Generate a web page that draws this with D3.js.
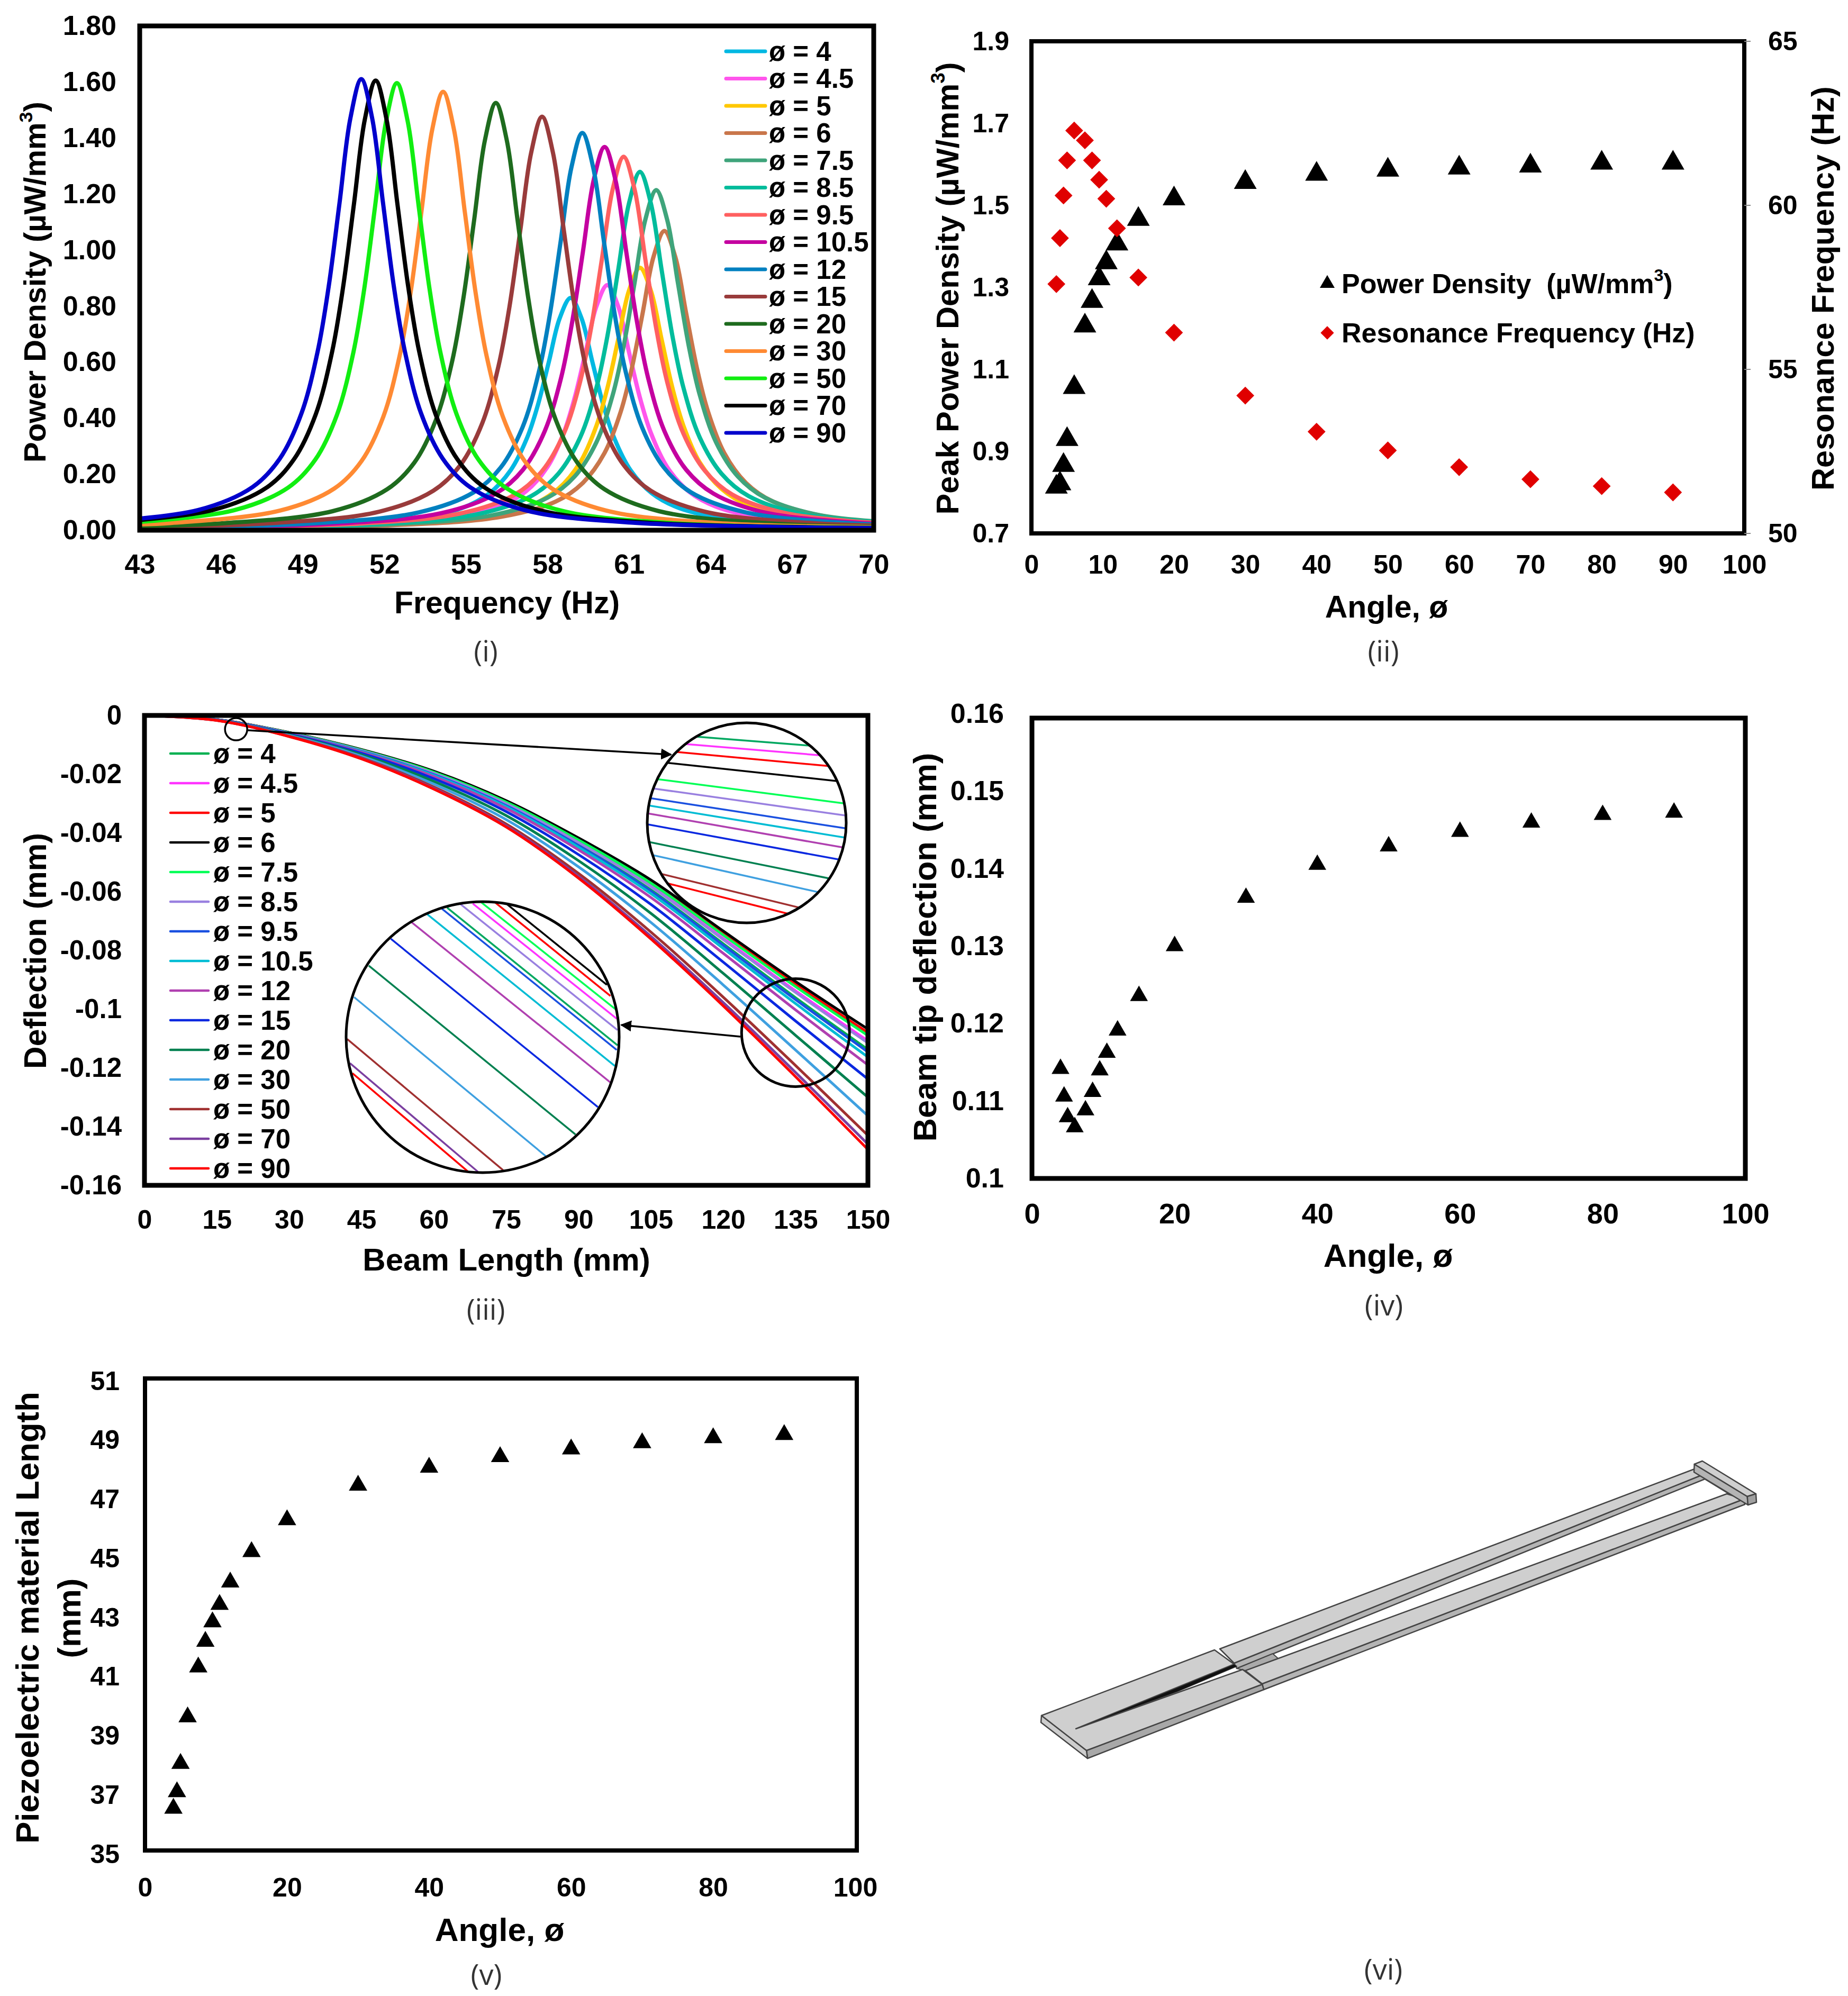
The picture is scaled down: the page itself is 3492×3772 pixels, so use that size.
<!DOCTYPE html>
<html>
<head>
<meta charset="utf-8">
<script src="https://cdn.jsdelivr.net/npm/d3@7"></script>
<style>
body { margin: 0; background: #fff; }
text { font-family: "Liberation Sans", Arial, sans-serif; font-weight: bold; fill: #000; }
.caption { font-family: "Open Sans", sans-serif; font-weight: 400; fill: #333; }
</style>
</head>
<body>
<script>
// Legend labels shared by panels (i) and (iii).
var phiLabels = ["ø = 4", "ø = 4.5", "ø = 5", "ø = 6", "ø = 7.5", "ø = 8.5", "ø = 9.5", "ø = 10.5", "ø = 12", "ø = 15", "ø = 20", "ø = 30", "ø = 50", "ø = 70", "ø = 90"];

// Panel (i): power density against frequency, [Hz, uW/mm3].
var powerColors = ["#00b8e2", "#ff55ec", "#ffc800", "#c9764b", "#3fa47b", "#00bc9c", "#ff6060", "#c400a0", "#0080c0", "#993b3b", "#1e6b1e", "#ff8a33", "#11ee11", "#000000", "#0000cc"];
var power4 = [[43,.006],[48.85,.014],[52.85,.037],[54.85,.079],[55.85,.131],[56.65,.215],[57.25,.33],[57.65,.448],[58.05,.601],[58.45,.757],[58.85,.829],[59.25,.757],[59.65,.601],[60.05,.448],[60.45,.33],[61.05,.215],[61.85,.131],[62.85,.079],[64.85,.037],[68.85,.014],[70,.011]];
var power45 = [[43,.005],[50.2,.015],[54.2,.039],[56.2,.084],[57.2,.138],[58,.226],[58.6,.348],[59,.473],[59.4,.635],[59.8,.799],[60.2,.875],[60.6,.799],[61,.635],[61.4,.473],[61.8,.348],[62.4,.226],[63.2,.138],[64.2,.084],[66.2,.039],[70.2,.015]];
var power5 = [[43,.005],[51.4,.016],[55.4,.042],[57.4,.089],[58.4,.148],[59.2,.242],[59.8,.373],[60.2,.506],[60.6,.68],[61,.856],[61.4,.937],[61.8,.856],[62.2,.68],[62.6,.506],[63,.373],[63.6,.242],[64.4,.148],[65.4,.089],[67.4,.042],[71.4,.016]];
var power6 = [[43,.005],[52.3,.018],[56.3,.048],[58.3,.102],[59.3,.169],[60.1,.276],[60.7,.425],[61.1,.577],[61.5,.775],[61.9,.976],[62.3,1.068],[62.7,.976],[63.1,.775],[63.5,.577],[63.9,.425],[64.5,.276],[65.3,.169],[66.3,.102],[68.3,.048],[72.3,.018]];
var power75 = [[43,.006],[52,.02],[56,.054],[58,.116],[59,.192],[59.8,.314],[60.4,.483],[60.8,.656],[61.2,.881],[61.6,1.109],[62,1.214],[62.4,1.109],[62.8,.881],[63.2,.656],[63.6,.483],[64.2,.314],[65,.192],[66,.116],[68,.054],[72,.02]];
var power85 = [[43,.006],[51.4,.021],[55.4,.057],[57.4,.122],[58.4,.202],[59.2,.331],[59.8,.509],[60.2,.691],[60.6,.928],[61,1.168],[61.4,1.279],[61.8,1.168],[62.2,.928],[62.6,.691],[63,.509],[63.6,.331],[64.4,.202],[65.4,.122],[67.4,.057],[71.4,.021]];
var power95 = [[43,.007],[50.8,.022],[54.8,.06],[56.8,.127],[57.8,.211],[58.6,.345],[59.2,.53],[59.6,.72],[60,.967],[60.4,1.218],[60.8,1.333],[61.2,1.218],[61.6,.967],[62,.72],[62.4,.53],[63,.345],[63.8,.211],[64.8,.127],[66.8,.06],[70.8,.022]];
var power105 = [[43,.008],[50.1,.023],[54.1,.061],[56.1,.131],[57.1,.216],[57.9,.354],[58.5,.544],[58.9,.739],[59.3,.992],[59.7,1.25],[60.1,1.368],[60.5,1.25],[60.9,.992],[61.3,.739],[61.7,.544],[62.3,.354],[63.1,.216],[64.1,.131],[66.1,.061],[70.1,.023]];
var power12 = [[43,.009],[49.28,.024],[53.28,.064],[55.28,.135],[56.28,.224],[57.08,.367],[57.68,.564],[58.08,.766],[58.48,1.028],[58.88,1.295],[59.28,1.418],[59.68,1.295],[60.08,1.028],[60.48,.766],[60.88,.564],[61.48,.367],[62.28,.224],[63.28,.135],[65.28,.064],[69.28,.024],[70,.021]];
var power15 = [[43,.011],[47.8,.025],[51.8,.066],[53.8,.141],[54.8,.233],[55.6,.382],[56.2,.587],[56.6,.797],[57,1.071],[57.4,1.348],[57.8,1.476],[58.2,1.348],[58.6,1.071],[59,.797],[59.4,.587],[60,.382],[60.8,.233],[61.8,.141],[63.8,.066],[67.8,.025],[70,.017]];
var power20 = [[43,.015],[46.1,.025],[50.1,.068],[52.1,.146],[53.1,.241],[53.9,.395],[54.5,.606],[54.9,.824],[55.3,1.106],[55.7,1.393],[56.1,1.525],[56.5,1.393],[56.9,1.106],[57.3,.824],[57.7,.606],[58.3,.395],[59.1,.241],[60.1,.146],[62.1,.068],[66.1,.025],[70,.013]];
var power30 = [[43,.021],[44.16,.026],[48.16,.07],[50.16,.149],[51.16,.247],[51.96,.405],[52.56,.622],[52.96,.845],[53.36,1.135],[53.76,1.43],[54.16,1.565],[54.56,1.43],[54.96,1.135],[55.36,.845],[55.76,.622],[56.36,.405],[57.16,.247],[58.16,.149],[60.16,.07],[64.16,.026],[70,.011]];
var power50 = [[42.46,.026],[46.46,.071],[48.46,.152],[49.46,.252],[50.26,.413],[50.86,.635],[51.26,.862],[51.66,1.158],[52.06,1.458],[52.46,1.596],[52.86,1.458],[53.26,1.158],[53.66,.862],[54.06,.635],[54.66,.413],[55.46,.252],[56.46,.152],[58.46,.071],[62.46,.026],[70,.009]];
var power70 = [[41.68,.027],[45.68,.072],[47.68,.153],[48.68,.254],[49.48,.415],[50.08,.638],[50.48,.867],[50.88,1.164],[51.28,1.466],[51.68,1.605],[52.08,1.466],[52.48,1.164],[52.88,.867],[53.28,.638],[53.88,.415],[54.68,.254],[55.68,.153],[57.68,.072],[61.68,.027],[70,.008]];
var power90 = [[41.15,.027],[45.15,.072],[47.15,.154],[48.15,.255],[48.95,.417],[49.55,.64],[49.95,.869],[50.35,1.168],[50.75,1.471],[51.15,1.61],[51.55,1.471],[51.95,1.168],[52.35,.869],[52.75,.64],[53.35,.417],[54.15,.255],[55.15,.154],[57.15,.072],[61.15,.027],[70,.008]];
var powerSeries = [power4, power45, power5, power6, power75, power85, power95, power105, power12, power15, power20, power30, power50, power70, power90];
var freqTicks = [43, 46, 49, 52, 55, 58, 61, 64, 67, 70];
var powerTicks = [0, .2, .4, .6, .8, 1, 1.2, 1.4, 1.6, 1.8];

// Panel (ii): peak power density and resonance frequency against angle.
var anglesIi = [3.5, 4, 4.5, 5, 6, 7.5, 8.5, 9.5, 10.5, 12, 15, 20, 30, 40, 50, 60, 70, 80, 90];
var peakPower = [.817, .825, .87, .933, 1.06, 1.21, 1.27, 1.325, 1.364, 1.41, 1.47, 1.52, 1.56, 1.58, 1.59, 1.595, 1.6, 1.607, 1.607];
var resonance = [57.6, 59, 60.3, 61.37, 62.28, 61.98, 61.37, 60.78, 60.2, 59.3, 57.8, 56.12, 54.2, 53.1, 52.53, 52.02, 51.65, 51.44, 51.25];
var peakTicks = [.7, .9, 1.1, 1.3, 1.5, 1.7, 1.9];
var resTicks = [50, 55, 60, 65];
var angleTicks10 = [0, 10, 20, 30, 40, 50, 60, 70, 80, 90, 100];

// Panel (iii): deflection against beam length.
var beamColors = ["#00b050", "#ff33ff", "#ff0000", "#000000", "#00ff55", "#9980e0", "#1a50e0", "#00bcd4", "#b040b0", "#0a28e0", "#008050", "#3fa0e0", "#a03030", "#7b3fa0", "#ff0000"];
var beamLength = [0, 15, 30, 45, 60, 75, 90, 105, 120, 135, 150];
var defl4 = [0, -.00145, -.00604, -.01214, -.02004, -.03053, -.04403, -.05942, -.07774, -.09611, -.11377];
var defl45 = [0, -.00143, -.00594, -.01191, -.0196, -.02988, -.04304, -.05797, -.0759, -.09378, -.11082];
var defl5 = [0, -.00141, -.00584, -.01169, -.01918, -.02926, -.0421, -.05658, -.07414, -.09154, -.10799];
var defl6 = [0, -.0014, -.0058, -.0116, -.019, -.029, -.0417, -.056, -.0734, -.0906, -.1068];
var defl75 = [0, -.00142, -.00588, -.01177, -.01933, -.02949, -.04244, -.05709, -.07478, -.09235, -.10901];
var defl85 = [0, -.00143, -.00596, -.01197, -.0197, -.03004, -.04328, -.05831, -.07633, -.09433, -.11152];
var defl95 = [0, -.00146, -.00607, -.01221, -.02016, -.03071, -.0443, -.05982, -.07825, -.09676, -.11459];
var defl105 = [0, -.00147, -.00612, -.01234, -.02042, -.03109, -.04488, -.06066, -.07932, -.09812, -.11631];
var defl12 = [0, -.00149, -.00622, -.01255, -.02082, -.03168, -.04578, -.06199, -.081, -.10026, -.11902];
var defl15 = [0, -.00152, -.00638, -.01293, -.02153, -.03274, -.04739, -.06434, -.08398, -.10405, -.12382];
var defl20 = [0, -.00157, -.00659, -.01341, -.02245, -.03409, -.04945, -.06738, -.08783, -.10894, -.13001];
var defl30 = [0, -.00162, -.00681, -.0139, -.02339, -.03548, -.05156, -.07047, -.09176, -.11393, -.13632];
var defl50 = [0, -.00166, -.00704, -.01443, -.02439, -.03695, -.0538, -.07375, -.09592, -.11921, -.143];
var defl70 = [0, -.00169, -.00714, -.01466, -.02483, -.0376, -.0548, -.07522, -.09778, -.12157, -.146];
var defl90 = [0, -.0017, -.0072, -.0148, -.0251, -.038, -.0554, -.0761, -.0989, -.123, -.1478];
var deflSeries = [defl4, defl45, defl5, defl6, defl75, defl85, defl95, defl105, defl12, defl15, defl20, defl30, defl50, defl70, defl90];
var lengthTicks = [0, 15, 30, 45, 60, 75, 90, 105, 120, 135, 150];
var deflTicks = [0, -.02, -.04, -.06, -.08, -.1, -.12, -.14, -.16];

// Magnified lenses in panel (iii): [u0, v0, u1, v1] of each line, in 0-1 lens units.
var lensTopColors = ["#00a860", "#ff33ff", "#ff0000", "#000000", "#00ff55", "#9980e0", "#1a50e0", "#00bcd4", "#b040b0", "#0a28e0", "#008050", "#3fa0e0", "#a03030", "#ff0000"];
var lensTopLines = [[0,.05,1,.128],[0,.09,1,.173],[0,.132,1,.224],[0,.189,1,.296],[0,.275,1,.404],[0,.324,1,.464],[0,.374,1,.528],[0,.412,1,.575],[0,.452,1,.626],[0,.507,1,.69],[0,.594,1,.795],[0,.655,1,.878],[0,.738,1,.981],[0,.777,1,1.028]];
var lensLowColors = ["#000000", "#ff0000", "#00ff55", "#ff33ff", "#9980e0", "#00a860", "#1a50e0", "#00bcd4", "#b040b0", "#0a28e0", "#008050", "#3fa0e0", "#a03030", "#7b3fa0", "#ff0000"];
var lensLowLines = [[.59,.01,.955,.307],[.546,.003,.968,.348],[.496,.003,.987,.397],[.464,.007,.991,.432],[.42,.01,.994,.474],[.37,.022,.994,.53],[.351,.026,.991,.547],[.298,.047,.984,.606],[.241,.077,.969,.668],[.164,.137,.922,.758],[.083,.236,.84,.859],[.029,.352,.731,.939],[.004,.507,.575,.991],[.014,.596,.483,.997],[.023,.633,.445,.995]];

// Panels (iv) and (v) share their angles.
var angles = [4, 4.5, 5, 6, 7.5, 8.5, 9.5, 10.5, 12, 15, 20, 30, 40, 50, 60, 70, 80, 90];
var tipDeflection = [.1145, .1109, .1082, .1069, .1091, .1115, .1143, .1166, .1195, .124, .1305, .1368, .1411, .1435, .1454, .1466, .1476, .1479];
var tipTicks = [.1, .11, .12, .13, .14, .15, .16];
var piezoLength = [36.48, 37.04, 38, 39.58, 41.27, 42.14, 42.8, 43.39, 44.15, 45.18, 46.26, 47.43, 48.04, 48.4, 48.66, 48.87, 49.04, 49.15];
var piezoTicks = [35, 37, 39, 41, 43, 45, 47, 49, 51];
var angleTicks20 = [0, 20, 40, 60, 80, 100];

var svg = d3.select("body").append("svg")
    .attr("width", 3492).attr("height", 3772)
    .style("display", "block");

// Put an axis on a panel edge and drop its domain line and ticks.
function drawAxis (axis, transform, padding, values, format, fontSize) {
    var g = svg.append("g").attr("transform", transform)
        .call(axis.tickValues(values).tickFormat(format).tickSize(0).tickPadding(padding));
    g.select(".domain").remove();
    g.selectAll("text").style("font-size", fontSize + "px");
    g.attr("font-family", null).attr("font-size", null);
    return g;
}

// Draw the heavy box round a panel.
function drawFrame (box, width) {
    svg.append("rect")
        .attr("x", box.l).attr("y", box.t)
        .attr("width", box.r - box.l).attr("height", box.b - box.t)
        .attr("fill", "none").attr("stroke", "#000").attr("stroke-width", width);
}

function titleX (text, x, y, size) {
    svg.append("text").text(text)
        .attr("x", x).attr("y", y)
        .attr("text-anchor", "middle").attr("dominant-baseline", "central")
        .style("font-size", size + "px");
}

// Rotated title; sup is an optional superscript followed by tail.
function titleY (text, x, y, size, sup, tail) {
    var t = svg.append("text")
        .attr("transform", "translate(" + x + "," + y + ") rotate(-90)")
        .attr("text-anchor", "middle").attr("dominant-baseline", "central")
        .style("font-size", size + "px");
    t.append("tspan").text(text);
    if (sup) {
        t.append("tspan").text(sup).attr("dy", -size * 0.3).style("font-size", (size * 0.62) + "px");
        t.append("tspan").text(tail).attr("dy", size * 0.3);
    }
}

function caption (text, x, y) {
    svg.append("text").attr("class", "caption").text(text)
        .attr("x", x).attr("y", y)
        .attr("text-anchor", "middle").attr("dominant-baseline", "central")
        .style("font-size", "54px");
}

function drawLegend (x0, x1, xText, y0, step, colors, width) {
    phiLabels.forEach(function (label, i) {
        svg.append("line")
            .attr("x1", x0).attr("x2", x1)
            .attr("y1", y0 + i * step).attr("y2", y0 + i * step)
            .attr("stroke", colors[i]).attr("stroke-width", width)
            .attr("stroke-linecap", "round");
        svg.append("text").text(label)
            .attr("x", xText).attr("y", y0 + i * step)
            .attr("dominant-baseline", "central")
            .style("font-size", "51px");
    });
}

function drawMarkers (xs, ys, x, y, size) {
    svg.append("g").selectAll("path").data(xs).join("path")
        .attr("d", d3.symbol().type(d3.symbolTriangle).size(size))
        .attr("transform", function (d, i) { return "translate(" + x(d) + "," + (y(ys[i]) + 3) + ")"; })
        .attr("fill", "#000");
}

function clipFor (id, box) {
    svg.append("clipPath").attr("id", id).append("rect")
        .attr("x", box.l).attr("y", box.t)
        .attr("width", box.r - box.l).attr("height", box.b - box.t);
}

// ---- Panel (i)
var boxI = { l: 264, r: 1651, t: 49, b: 1002 };
var xI = d3.scaleLinear().domain([43, 70]).range([boxI.l, boxI.r]);
var yI = d3.scaleLinear().domain([0, 1.8]).range([boxI.b, boxI.t]);
var lineI = d3.line().x(function (d) { return xI(d[0]); }).y(function (d) { return yI(d[1]); }).curve(d3.curveCatmullRom.alpha(0.5));
clipFor("clipI", boxI);
svg.append("g").attr("clip-path", "url(#clipI)")
    .selectAll("path").data(powerSeries).join("path")
    .attr("d", lineI)
    .attr("fill", "none")
    .attr("stroke", function (d, i) { return powerColors[i]; })
    .attr("stroke-width", 8);
drawFrame(boxI, 9);
drawAxis(d3.axisBottom(xI), "translate(0," + boxI.b + ")", 45, freqTicks, String, 52);
drawAxis(d3.axisLeft(yI), "translate(" + boxI.l + ",0)", 44, powerTicks, function (d) { return d.toFixed(2); }, 52);
drawLegend(1372, 1446, 1453, 97, 51.5, powerColors, 7);
titleX("Frequency (Hz)", 958, 1139, 59);
titleY("Power Density (µW/mm", 65, 533, 58, "3", ")");
caption("(i)", 918, 1229);

// ---- Panel (ii)
var boxIi = { l: 1949, r: 3296, t: 78, b: 1008 };
var xIi = d3.scaleLinear().domain([0, 100]).range([boxIi.l, boxIi.r]);
var yIi = d3.scaleLinear().domain([.7, 1.9]).range([boxIi.b, boxIi.t]);
var yRes = d3.scaleLinear().domain([50, 65]).range([boxIi.b, boxIi.t]);
drawMarkers(anglesIi, peakPower, xIi, yIi, 800);
svg.append("g").selectAll("path").data(anglesIi).join("path")
    .attr("d", d3.symbol().type(d3.symbolSquare).size(570))
    .attr("transform", function (d, i) { return "translate(" + xIi(d) + "," + yRes(resonance[i]) + ") rotate(45)"; })
    .attr("fill", "#e00000");
drawFrame(boxIi, 8);
svg.append("g").selectAll("line").data(resTicks).join("line")
    .attr("x1", boxIi.r).attr("x2", boxIi.r + 12)
    .attr("y1", yRes).attr("y2", yRes)
    .attr("stroke", "#888").attr("stroke-width", 2);
drawAxis(d3.axisBottom(xIi), "translate(0," + boxIi.b + ")", 40, angleTicks10, String, 50);
drawAxis(d3.axisLeft(yIi), "translate(" + boxIi.l + ",0)", 42, peakTicks, function (d) { return d.toFixed(1); }, 50);
drawAxis(d3.axisRight(yRes), "translate(" + boxIi.r + ",0)", 45, resTicks, String, 50);
titleX("Angle, ø", 2620, 1147, 59);
titleY("Peak Power Density (µW/mm", 1790, 545, 59.5, "3", ")");
titleY("Resonance Frequency (Hz)", 3444, 545, 59.5);
caption("(ii)", 2614, 1229);
// Legend of panel (ii)
svg.append("path").attr("d", d3.symbol().type(d3.symbolTriangle).size(340))
    .attr("transform", "translate(2508,536)").attr("fill", "#000");
svg.append("path").attr("d", d3.symbol().type(d3.symbolSquare).size(320))
    .attr("transform", "translate(2508,629) rotate(45)").attr("fill", "#e00000");
var legPower = svg.append("text").attr("x", 2535).attr("y", 536)
    .attr("dominant-baseline", "central")
    .style("font-size", "52px");
legPower.append("tspan").text("Power Density\u00a0\u00a0(µW/mm");
legPower.append("tspan").text("3").attr("dy", -16).style("font-size", "32px");
legPower.append("tspan").text(")").attr("dy", 16);
svg.append("text").text("Resonance Frequency (Hz)")
    .attr("x", 2535).attr("y", 629)
    .attr("dominant-baseline", "central")
    .style("font-size", "52px");

// ---- Panel (iii)
var boxIii = { l: 273, r: 1640, t: 1352, b: 2240 };
var xIii = d3.scaleLinear().domain([0, 150]).range([boxIii.l, boxIii.r]);
var yIii = d3.scaleLinear().domain([-.16, 0]).range([boxIii.b, boxIii.t]);
var lineIii = d3.line().x(function (d, i) { return xIii(beamLength[i]); }).y(function (d) { return yIii(d); }).curve(d3.curveCatmullRom.alpha(0.5));
clipFor("clipIii", boxIii);
svg.append("g").attr("clip-path", "url(#clipIii)")
    .selectAll("path").data(deflSeries).join("path")
    .attr("d", lineIii)
    .attr("fill", "none")
    .attr("stroke", function (d, i) { return beamColors[i]; })
    .attr("stroke-width", 5);
drawFrame(boxIii, 9);
drawAxis(d3.axisBottom(xIii), "translate(0," + boxIii.b + ")", 46, lengthTicks, String, 50);
drawAxis(d3.axisLeft(yIii), "translate(" + boxIii.l + ",0)", 43, deflTicks, String, 51);
drawLegend(322, 394, 403, 1424, 56, beamColors, 4.5);
titleX("Beam Length (mm)", 957, 2380, 60);
titleY("Deflection (mm)", 67, 1797, 59);
caption("(iii)", 918, 2473);

// One magnified lens: lines are clipped to an ellipse laid over them.
function drawLens (id, cx, cy, rx, ry, lines, colors, strokeWidth) {
    var u = d3.scaleLinear().domain([0, 1]).range([cx - rx, cx + rx]);
    var v = d3.scaleLinear().domain([0, 1]).range([cy - ry, cy + ry]);
    svg.append("clipPath").attr("id", id).append("ellipse")
        .attr("cx", cx).attr("cy", cy).attr("rx", rx).attr("ry", ry);
    svg.append("ellipse").attr("cx", cx).attr("cy", cy).attr("rx", rx).attr("ry", ry).attr("fill", "#fff");
    svg.append("g").attr("clip-path", "url(#" + id + ")")
        .selectAll("line").data(lines).join("line")
        .attr("x1", function (d) { return u(d[0]); }).attr("y1", function (d) { return v(d[1]); })
        .attr("x2", function (d) { return u(d[2]); }).attr("y2", function (d) { return v(d[3]); })
        .attr("stroke", function (d, i) { return colors[i]; })
        .attr("stroke-width", strokeWidth);
    svg.append("ellipse").attr("cx", cx).attr("cy", cy).attr("rx", rx).attr("ry", ry)
        .attr("fill", "none").attr("stroke", "#000").attr("stroke-width", 5);
}

drawLens("lensTop", 1411, 1555, 188, 189, lensTopLines, lensTopColors, 3.5);
drawLens("lensLow", 912, 1960, 258, 256, lensLowLines, lensLowColors, 3.5);

// Small rings on the curves and the arrows to the lenses.
svg.append("circle").attr("cx", xIii(19)).attr("cy", yIii(-.0047)).attr("r", 21)
    .attr("fill", "none").attr("stroke", "#000").attr("stroke-width", 3.5);
svg.append("circle").attr("cx", xIii(135)).attr("cy", yIii(-.108)).attr("r", 102)
    .attr("fill", "none").attr("stroke", "#000").attr("stroke-width", 5);
svg.append("marker").attr("id", "arrowHead")
    .attr("viewBox", "0 0 10 10").attr("refX", 9).attr("refY", 5)
    .attr("markerWidth", 6).attr("markerHeight", 6).attr("orient", "auto")
    .append("path").attr("d", "M0,0L10,5L0,10Z").attr("fill", "#000");
var arrows = [[468, 1380, 1268, 1426], [1399, 1959, 1174, 1937]];
svg.append("g").selectAll("line").data(arrows).join("line")
    .attr("x1", function (d) { return d[0]; }).attr("y1", function (d) { return d[1]; })
    .attr("x2", function (d) { return d[2]; }).attr("y2", function (d) { return d[3]; })
    .attr("stroke", "#000").attr("stroke-width", 3.5)
    .attr("marker-end", "url(#arrowHead)");

// ---- Panel (iv)
var boxIv = { l: 1950, r: 3298, t: 1357, b: 2227 };
var xIv = d3.scaleLinear().domain([0, 100]).range([boxIv.l, boxIv.r]);
var yIv = d3.scaleLinear().domain([.1, .16]).range([boxIv.b, boxIv.t]);
var yIvLabels = d3.scaleLinear().domain([.1, .16]).range([boxIv.b, boxIv.t - 8]);
drawMarkers(angles, tipDeflection, xIv, yIv, 490);
drawFrame(boxIv, 9);
drawAxis(d3.axisBottom(xIv), "translate(0," + boxIv.b + ")", 47, angleTicks20, String, 54);
drawAxis(d3.axisLeft(yIvLabels), "translate(" + boxIv.l + ",0)", 53, tipTicks, String, 52);
titleX("Angle, ø", 2623, 2372, 62);
titleY("Beam tip deflection (mm)", 1747, 1790, 61.5);
caption("(iv)", 2615, 2465);

// ---- Panel (v)
var boxV = { l: 274, r: 1619, t: 2605, b: 3497 };
var xV = d3.scaleLinear().domain([0, 100]).range([boxV.l, boxV.r - 3]);
var yV = d3.scaleLinear().domain([35, 51]).range([boxV.b, boxV.t]);
var yVLabels = d3.scaleLinear().domain([35, 51]).range([boxV.b + 7, boxV.t + 5]);
drawMarkers(angles, piezoLength, xV, yV, 520);
drawFrame(boxV, 8);
drawAxis(d3.axisBottom(xV), "translate(0," + boxV.b + ")", 51, angleTicks20, String, 50);
drawAxis(d3.axisLeft(yVLabels), "translate(" + boxV.l + ",0)", 48, piezoTicks, String, 50);
titleX("Angle, ø", 944, 3646, 62);
titleY("Piezoelectric material Length", 51, 3057, 61.7);
titleY("(mm)", 130, 3058, 61.7);
caption("(v)", 919, 3730);

// ---- Panel (vi): the beam drawing, back faces first.
var beamFaces = [
    { fill: "#b4b4b4", stroke: 2.5, pts: [[2332,3143],[3222,2785],[3224,2794],[2337,3153]] },
    { fill: "#b4b4b4", stroke: 2.5, pts: [[2385,3182],[3295,2833],[3297,2843],[2388,3193]] },
    { fill: "#cfcfcf", stroke: 2.5, pts: [[2305,3116],[3202,2776],[3222,2785],[2332,3143]] },
    { fill: "#cfcfcf", stroke: 2.5, pts: [[2353,3157],[3263,2823],[3295,2833],[2385,3182]] },
    { fill: "#dcdcdc", stroke: 2.5, pts: [[3225,2785],[3278,2818],[3267,2823],[3223,2796]] },
    { fill: "#b4b4b4", stroke: 2.5, pts: [[3201.7,2767],[3301.7,2828],[3303,2844],[3201,2782]] },
    { fill: "#cfcfcf", stroke: 2.5, pts: [[3201.7,2767],[3216.7,2761],[3318,2823],[3301.7,2828]] },
    { fill: "#a0a0a0", stroke: 2.5, pts: [[3301.7,2828],[3318,2823],[3319,2839],[3303,2844]] },
    { fill: "#a8a8a8", stroke: 2.5, pts: [[2053,3308],[2385,3183],[2388,3193],[2055,3323]] },
    { fill: "#cdcdcd", stroke: 2.5, pts: [[1968,3242],[2053,3308],[2055,3323],[1967,3255]] },
    { fill: "#aaaaaa", stroke: 2, pts: [[2337,3153],[2353,3157],[2415,3134],[2405,3125]] },
    { fill: "#cfcfcf", stroke: 2.5, pts: [[1968,3242],[2295,3118],[2332,3145],[2033,3267],[2348,3155],[2385,3183],[2053,3308]] },
    { fill: "#111111", stroke: 1, pts: [[2033,3267],[2215,3193],[2332,3145],[2338,3149],[2225,3197]] }
];
svg.append("g").selectAll("path").data(beamFaces).join("path")
    .attr("d", function (d) { return d3.line()(d.pts) + "Z"; })
    .attr("fill", function (d) { return d.fill; })
    .attr("stroke", "#444").attr("stroke-width", function (d) { return d.stroke; })
    .attr("stroke-linejoin", "round");
caption("(vi)", 2614, 3720);
</script>
</body>
</html>
